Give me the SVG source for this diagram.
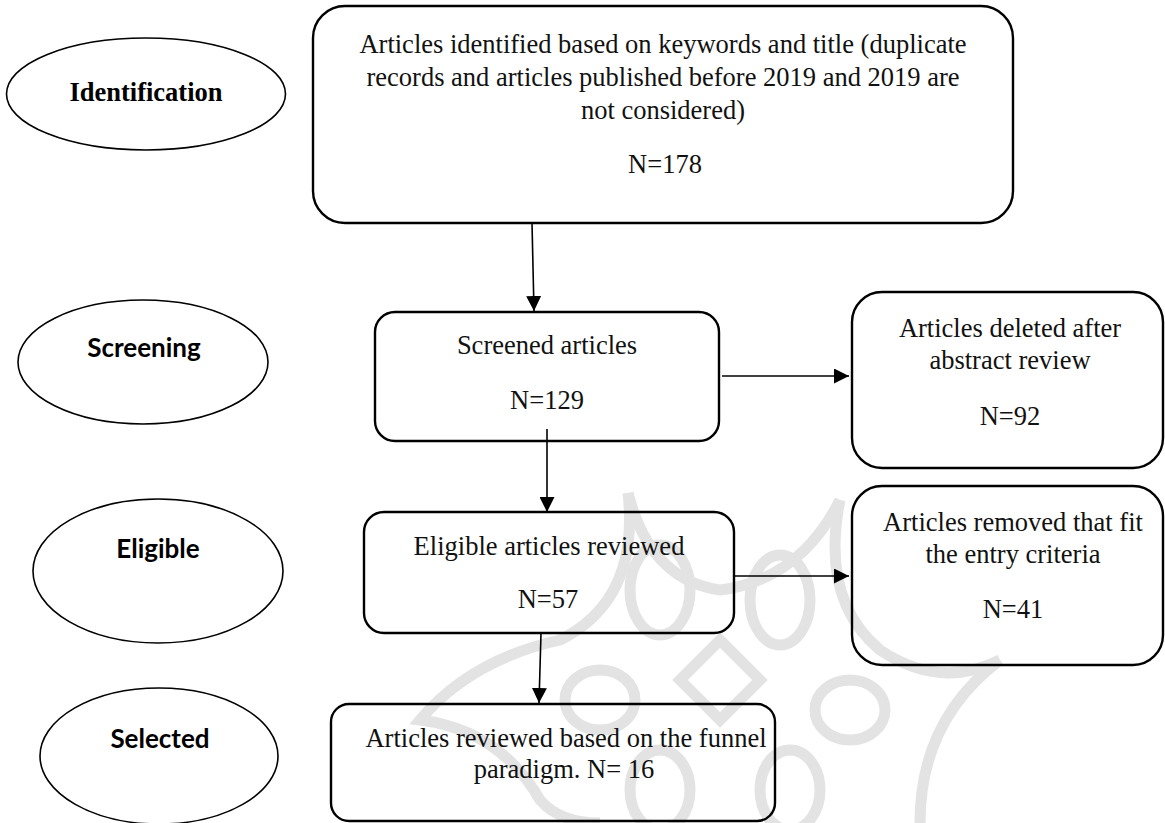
<svg xmlns="http://www.w3.org/2000/svg" width="1165" height="823" viewBox="0 0 1165 823">
<style>
.box{fill:none;stroke:#000;stroke-width:2.4}
.ell{fill:none;stroke:#000;stroke-width:1.6}
.t{font-family:"Liberation Serif","Times New Roman",serif;font-size:26.5px;fill:#111;text-anchor:middle}
.tb{font-family:"Liberation Serif","Times New Roman",serif;font-size:26.5px;font-weight:bold;fill:#000;text-anchor:middle}
.ts{font-family:Lato,"Open Sans",sans-serif;font-size:26px;font-weight:bold;fill:#000;text-anchor:middle}
.c{fill:none;stroke:#000;stroke-width:1.6}
.wm{fill:none;stroke:#e3e3e3;stroke-width:11}
</style>
<defs>
<marker id="ah" viewBox="0 0 14 14" refX="14" refY="7" markerWidth="15" markerHeight="15" markerUnits="userSpaceOnUse" orient="auto">
<path d="M0,0 L14,7 L0,14 z" fill="#000"/>
</marker>
</defs>
<rect width="1165" height="823" fill="#fff"/>
<g id="watermark">
<path class="wm" d="M628,493 Q640,600 560,640 Q470,660 420,720 Q500,730 540,800 Q560,823 600,823"/>
<path class="wm" d="M628,493 Q650,580 720,590 Q800,580 840,500"/>
<path class="wm" d="M840,500 Q820,600 880,650 Q940,690 1000,660"/>
<path class="wm" d="M1000,660 Q920,720 920,823"/>
<ellipse class="wm" cx="660" cy="590" rx="30" ry="45"/>
<ellipse class="wm" cx="780" cy="600" rx="30" ry="45"/>
<ellipse class="wm" cx="600" cy="700" rx="35" ry="30"/>
<ellipse class="wm" cx="850" cy="710" rx="35" ry="30"/>
<ellipse class="wm" cx="660" cy="790" rx="30" ry="40"/>
<ellipse class="wm" cx="790" cy="790" rx="30" ry="40"/>
<path class="wm" d="M680,680 L720,640 L760,680 L720,720 z"/>
</g>
<g id="connectors">
<line class="c" x1="532" y1="223" x2="534" y2="311" marker-end="url(#ah)"/>
<line class="c" x1="547" y1="429" x2="547" y2="512" marker-end="url(#ah)"/>
<line class="c" x1="541" y1="633" x2="539" y2="703" marker-end="url(#ah)"/>
<line class="c" x1="722" y1="376" x2="849" y2="376" marker-end="url(#ah)"/>
<line class="c" x1="734" y1="576" x2="849" y2="576" marker-end="url(#ah)"/>
</g>
<g id="identification">
<ellipse class="ell" cx="146" cy="94" rx="139.5" ry="56"/>
<text class="tb" x="146" y="101">Identification</text>
</g>
<g id="screening">
<ellipse class="ell" cx="143" cy="362" rx="125" ry="62"/>
<text class="ts" x="144" y="357">Screening</text>
</g>
<g id="eligible">
<ellipse class="ell" cx="158" cy="571" rx="125" ry="72"/>
<text class="ts" x="158" y="558">Eligible</text>
</g>
<g id="selected">
<ellipse class="ell" cx="159" cy="756" rx="119" ry="68"/>
<text class="ts" x="160" y="748">Selected</text>
</g>
<g id="identified-box">
<rect class="box" x="313" y="6" width="700" height="217" rx="32" ry="32"/>
<text class="t" x="663" y="53">Articles identified based on keywords and title (duplicate</text>
<text class="t" x="663" y="86">records and articles published before 2019 and 2019 are</text>
<text class="t" x="663" y="119">not considered)</text>
<text class="t" x="665" y="173">N=178</text>
</g>
<g id="screened-box">
<rect class="box" x="375" y="312" width="344" height="129" rx="20" ry="20"/>
<text class="t" x="547" y="354">Screened articles</text>
<text class="t" x="547" y="409">N=129</text>
</g>
<g id="deleted-box">
<rect class="box" x="852" y="292" width="311" height="176" rx="30" ry="30"/>
<text class="t" x="1010" y="337">Articles deleted after</text>
<text class="t" x="1010" y="369">abstract review</text>
<text class="t" x="1010" y="425">N=92</text>
</g>
<g id="eligible-box">
<rect class="box" x="364" y="512" width="370" height="121" rx="20" ry="20"/>
<text class="t" x="549" y="555">Eligible articles reviewed</text>
<text class="t" x="548" y="608">N=57</text>
</g>
<g id="removed-box">
<rect class="box" x="852" y="486" width="311" height="179" rx="30" ry="30"/>
<text class="t" x="1013" y="531">Articles removed that fit</text>
<text class="t" x="1013" y="563">the entry criteria</text>
<text class="t" x="1013" y="618">N=41</text>
</g>
<g id="selected-box">
<rect class="box" x="331" y="704" width="444" height="117" rx="18" ry="18"/>
<text class="t" x="566" y="747">Articles reviewed based on the funnel</text>
<text class="t" x="564" y="778">paradigm. N= 16</text>
</g>
</svg>
